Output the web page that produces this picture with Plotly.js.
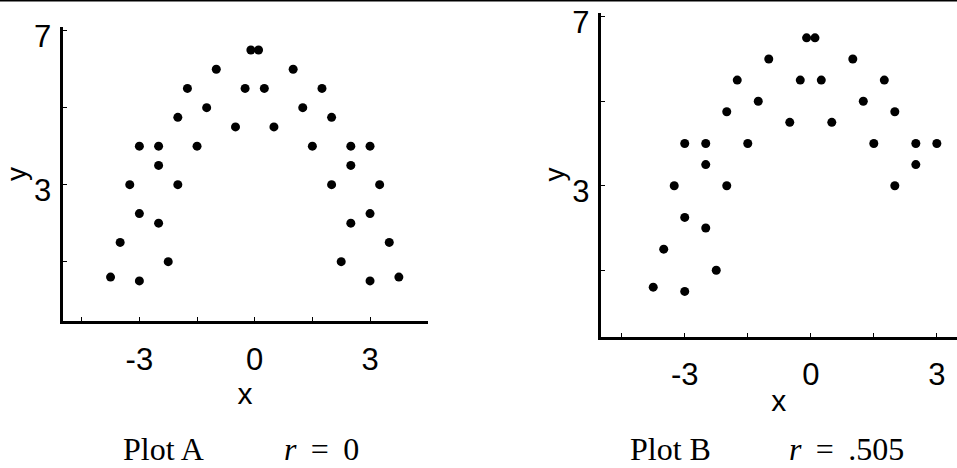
<!DOCTYPE html>
<html>
<head>
<meta charset="utf-8">
<script src="https://cdn.plot.ly/plotly-3.0.1.min.js"></script>
<style>
  html, body { margin: 0; padding: 0; background: #ffffff; }
  #chart { width: 957px; height: 468px; }
</style>
</head>
<body>
<div id="chart"></div>
<script>
// Plot A: symmetric arch, no linear trend
const plotA_x = [-3.75, -3, -3.5, -3, -2.5, -2.25, -3.25, -3, -2.5, -2.5, -2, -2, -1.5, -1.75, -1.25, -1, -0.5, -0.25, -0.1,
                 0.1, 0.25, 0.5, 1, 1.25, 1.75, 1.5, 2, 2, 2.5, 2.5, 3, 3.25, 2.5, 3, 2.25, 3.5, 3, 3.75];
const plotA_y = [0.6, 0.5, 1.5, 2.25, 2, 1, 3, 4, 4, 3.5, 3, 4.75, 4, 5.5, 5, 6, 4.5, 5.5, 6.5,
                 6.5, 5.5, 4.5, 6, 5, 5.5, 4, 4.75, 3, 4, 3.5, 4, 3, 2, 2.25, 1, 1.5, 0.5, 0.6];

// Plot B: the same arch with the right-hand tail removed
const plotB_x = [-3.75, -3, -3.5, -3, -2.5, -2.25, -3.25, -3, -2.5, -2.5, -2, -2, -1.5, -1.75, -1.25, -1, -0.5, -0.25, -0.1,
                 0.1, 0.25, 0.5, 1, 1.25, 1.75, 1.5, 2, 2, 2.5, 2.5, 3];
const plotB_y = [0.6, 0.5, 1.5, 2.25, 2, 1, 3, 4, 4, 3.5, 3, 4.75, 4, 5.5, 5, 6, 4.5, 5.5, 6.5,
                 6.5, 5.5, 4.5, 6, 5, 5.5, 4, 4.75, 3, 4, 3.5, 4];

const xTickVals = [-3, 0, 3];
const xTickText = ['-3', '0', '3'];
const yTickVals = [3, 7];
const yTickText = ['3', '7'];
const captions = ['Plot A', '<i>r</i>\u00a0\u2009=\u00a0\u20090', 'Plot B', '<i>r</i>\u00a0\u2009=\u00a0\u2009.505'];

const W = 957, H = 468;
const px = v => v / W;          // pixel column -> paper fraction
const py = v => 1 - v / H;      // pixel row -> paper fraction

const sans = 'Liberation Sans, Arial, Helvetica, sans-serif';
const serif = 'Liberation Serif, Times New Roman, serif';

const marker = { color: '#000000', size: 9, line: { width: 0 } };

const traces = [
  { x: plotA_x, y: plotA_y, type: 'scatter', mode: 'markers', marker: marker, xaxis: 'x', yaxis: 'y', hoverinfo: 'x+y' },
  { x: plotB_x, y: plotB_y, type: 'scatter', mode: 'markers', marker: marker, xaxis: 'x2', yaxis: 'y2', hoverinfo: 'x+y' }
];

function xAxis(domain, range, anchor) {
  return {
    domain: domain, range: range, anchor: anchor,
    showline: true, linecolor: '#000000', linewidth: 3,
    showgrid: false, zeroline: false,
    tickmode: 'array', tickvals: xTickVals, ticktext: xTickText,
    ticks: 'inside', ticklen: 4, tickwidth: 1, tickcolor: '#000000',
    minor: { tick0: 0, dtick: 1.5, ticks: 'inside', ticklen: 4, tickwidth: 1, tickcolor: '#000000' },
    tickfont: { family: sans, size: 31, color: '#000000' },
    ticklabelstandoff: 8,
    ticklabeloverflow: 'allow',
    title: { text: 'x', font: { family: sans, size: 30, color: '#000000' }, standoff: 0 },
    fixedrange: true
  };
}

function yAxis(domain, range, anchor) {
  return {
    domain: domain, range: range, anchor: anchor,
    showline: true, linecolor: '#000000', linewidth: 3,
    showgrid: false, zeroline: false,
    tickmode: 'array', tickvals: yTickVals, ticktext: yTickText,
    ticks: 'inside', ticklen: 4, tickwidth: 1, tickcolor: '#000000',
    minor: { tick0: 1, dtick: 2, ticks: 'inside', ticklen: 4, tickwidth: 1, tickcolor: '#000000' },
    tickfont: { family: sans, size: 31, color: '#000000' },
    ticklabelstandoff: 2,
    ticklabelshift: 5,
    ticklabeloverflow: 'allow',
    title: { text: 'y', font: { family: sans, size: 28, color: '#000000' }, standoff: 0 },
    fixedrange: true
  };
}

function caption(text, cx) {
  return {
    text: text, x: px(cx), y: 0, xref: 'paper', yref: 'paper', xanchor: 'center', yanchor: 'bottom',
    borderpad: 0, showarrow: false, font: { family: serif, size: 32, color: '#000000' }
  };
}

const layout = {
  width: W, height: H,
  margin: { l: 0, r: 0, t: 0, b: 0, pad: 0 },
  paper_bgcolor: '#ffffff', plot_bgcolor: '#ffffff',
  showlegend: false,
  xaxis: xAxis([px(62.5), px(427.7)], [-5, 4.5], 'y'),
  yaxis: yAxis([py(321.35), py(26.85)], [-0.55, 7.1], 'x'),
  xaxis2: xAxis([px(600.7), 1], [-5, 3.48], 'y2'),
  yaxis2: yAxis([py(336.6), py(12.5)], [-0.57, 7.1], 'x2'),
  shapes: [
    { type: 'line', xref: 'paper', yref: 'paper', x0: 0, x1: 1, y0: 1, y1: 1,
      line: { color: '#000000', width: 3 } }
  ],
  annotations: [
    caption(captions[0], 163),
    caption(captions[1], 321),
    caption(captions[2], 670),
    caption(captions[3], 846.5)
  ]
};

Plotly.newPlot('chart', traces, layout, { displayModeBar: false, staticPlot: true });
</script>
</body>
</html>
